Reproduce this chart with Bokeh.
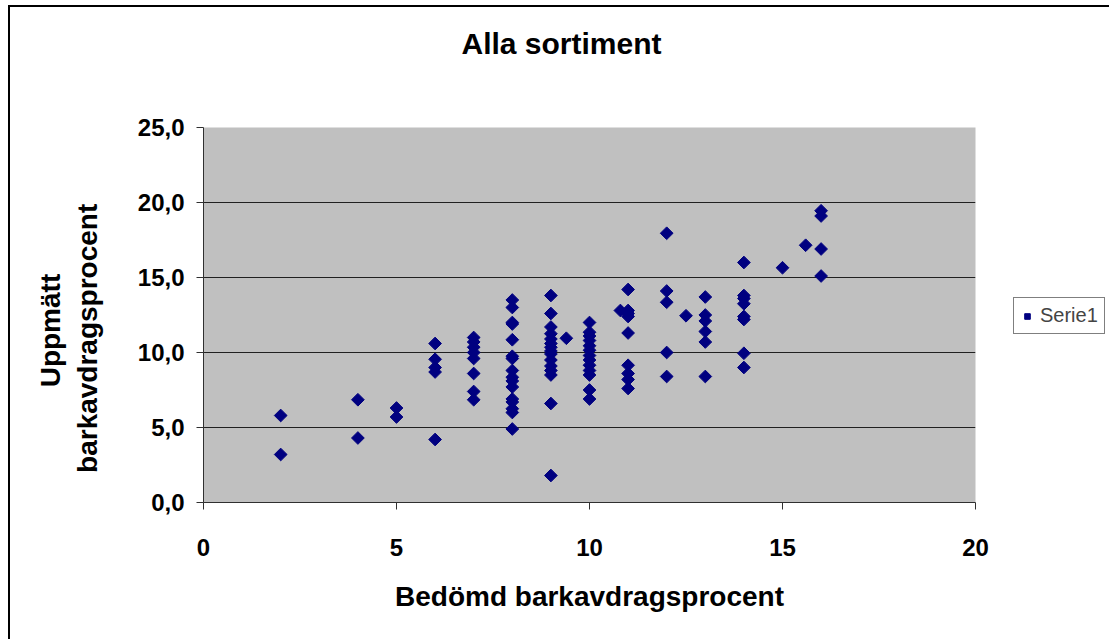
import math
from bokeh.plotting import figure
from bokeh.models import Range1d, FixedTicker, Legend, LegendItem, Title
from bokeh.embed import file_html
from bokeh.resources import INLINE

# Data: assessed (x) vs measured (y) bark deduction percentage
bedomd = [2, 2,
          4, 4,
          5, 5,
          6, 6, 6, 6, 6,
          7, 7, 7, 7, 7, 7, 7, 7,
          8, 8, 8, 8, 8, 8, 8, 8, 8, 8, 8, 8, 8, 8, 8, 8,
          9, 9, 9, 9, 9, 9, 9, 9, 9, 9, 9, 9, 9, 9, 9,
          9.4,
          10, 10, 10, 10, 10, 10, 10, 10, 10, 10, 10, 10, 10,
          10.8,
          11, 11, 11, 11, 11, 11, 11, 11, 11,
          12, 12, 12, 12, 12,
          12.5,
          13, 13, 13, 13, 13, 13,
          14, 14, 14, 14, 14, 14, 14, 14,
          15,
          15.6,
          16, 16, 16, 16]
uppmatt = [5.8, 3.2,
           6.85, 4.3,
           6.3, 5.7,
           10.6, 9.55, 9.0, 8.7, 4.2,
           11.0, 10.7, 10.35, 10.0, 9.6, 8.6, 7.4, 6.85,
           13.5, 13.0, 12.0, 11.9, 10.85, 9.75, 9.6, 8.8, 8.35, 8.1, 7.7, 6.9, 6.7, 6.25, 6.0, 4.9,
           13.8, 12.6, 11.7, 11.25, 10.9, 10.6, 10.35, 10.1, 9.9, 9.5, 9.1, 8.8, 8.5, 6.6, 1.8,
           10.95,
           12.0, 11.35, 11.1, 10.8, 10.45, 10.15, 9.8, 9.5, 9.15, 8.8, 8.5, 7.5, 6.9,
           12.8,
           14.2, 12.8, 12.6, 12.4, 11.3, 9.15, 8.6, 8.2, 7.6,
           17.95, 14.1, 13.35, 10.0, 8.4,
           12.45,
           13.7, 12.5, 12.1, 11.4, 10.7, 8.4,
           16.0, 13.8, 13.6, 13.25, 12.4, 12.2, 9.95, 9.0,
           15.65,
           17.15,
           19.45, 19.1, 16.9, 15.1]

x_ticks = [0, 5, 10, 15, 20]
y_ticks = [0, 5, 10, 15, 20, 25]
y_tick_labels = ["0,0", "5,0", "10,0", "15,0", "20,0", "25,0"]
grid_lines = [5, 10, 15, 20]

title_text = "Alla sortiment"
x_title = "Bedömd barkavdragsprocent"
y_title_lines = ["Uppmätt", "barkavdragsprocent"]
series_name = "Serie1"

FONT = "Liberation Sans"
NBSP = "\u00a0"

p = figure(frame_width=772, frame_height=375, output_backend="svg", toolbar_location=None,
           x_range=Range1d(0, 20), y_range=Range1d(0, 25),
           min_border_left=203, min_border_right=134,
           min_border_top=127, min_border_bottom=137)

p.background_fill_color = "#C0C0C0"
p.border_fill_color = None
p.border_fill_alpha = 0
p.outline_line_color = None
p.styles = {"box-shadow": "inset 8px 5px 0 0 #ffffff, inset 10px 7px 0 0 #000000",
            "background": "white"}

# spacer below the title (closest to the frame)
p.add_layout(Title(text=" ", text_font_size="45px"), "above")
p.title.text = title_text
p.title.align = "left"
p.title.offset = 258
p.title.text_font = FONT
p.title.text_font_style = "bold"
p.title.text_font_size = "30px"
p.title.text_color = "black"

p.xgrid.visible = False
p.ygrid.ticker = FixedTicker(ticks=grid_lines)
p.ygrid.grid_line_color = "#202020"
p.ygrid.grid_line_width = 1

for ax in (p.xaxis[0], p.yaxis[0]):
    ax.axis_line_color = "#303030"
    ax.axis_line_width = 1
    ax.major_tick_line_color = "#303030"
    ax.major_tick_out = 7
    ax.major_tick_in = 0
    ax.minor_tick_out = 0
    ax.minor_tick_in = 0
    ax.major_label_text_font = FONT
    ax.major_label_text_font_style = "bold"
    ax.major_label_text_font_size = "24px"
    ax.major_label_text_color = "black"
    ax.axis_label_text_font = FONT
    ax.axis_label_text_font_style = "bold"
    ax.axis_label_text_font_size = "28px"
    ax.axis_label_text_color = "black"

p.xaxis.ticker = FixedTicker(ticks=x_ticks)
p.yaxis.ticker = FixedTicker(ticks=y_ticks)
p.yaxis.major_label_overrides = {t: s for t, s in zip(y_ticks, y_tick_labels)}
p.xaxis.major_label_standoff = 29
p.yaxis.major_label_standoff = 12
p.xaxis.axis_label = x_title
# trailing no-break spaces nudge the rotated title lines down, as in the original
p.yaxis.axis_label = (y_title_lines[0] + NBSP * 4) + "\n" + (y_title_lines[1] + NBSP * 6)
p.xaxis.axis_label_standoff = 22
p.yaxis.axis_label_standoff = 32

r = p.scatter(bedomd, uppmatt, marker="square", size=9, angle=math.pi / 4,
              fill_color="#000080", line_color="#000080")

legend = Legend(items=[LegendItem(label=series_name, renderers=[r])],
                location=(38, 168), margin=0, padding=6, spacing=0,
                glyph_width=14, glyph_height=14, label_standoff=6,
                label_text_font=FONT, label_text_font_size="20px",
                border_line_color="black", border_line_width=1,
                background_fill_color="white")
p.add_layout(legend, "right")

open("out.html", "w").write(file_html(p, INLINE))
